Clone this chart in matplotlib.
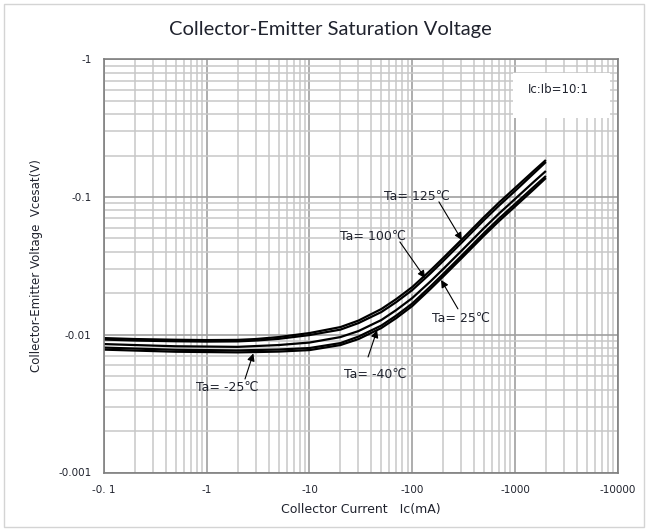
import numpy as np
import matplotlib
matplotlib.use("Agg")
import matplotlib.pyplot as plt
from matplotlib.ticker import FixedLocator, LogLocator, NullFormatter
from matplotlib.patches import Rectangle

# collector current (mA, magnitude) and Vce(sat) (V, magnitude)
ic = [0.1, 0.2, 0.5, 1, 2, 3, 5, 10, 20, 30, 50, 70, 100, 150, 200, 300, 500, 700, 1000, 1500, 2000]
v_125 = [0.00946, 0.00931, 0.00920, 0.00915, 0.00918, 0.00931, 0.00962, 0.01029, 0.01137, 0.01268, 0.01537,
         0.01817, 0.0222, 0.02926, 0.03606, 0.04872, 0.07158, 0.09121, 0.1162, 0.1532, 0.1857]
v_100 = [0.00923, 0.00908, 0.00897, 0.00892, 0.00895, 0.00908, 0.00934, 0.00995, 0.0109, 0.01216, 0.01462,
         0.01728, 0.02111, 0.02783, 0.0343, 0.04634, 0.06808, 0.08675, 0.1105, 0.1469, 0.1796]
v_25 = [0.00856, 0.00842, 0.00825, 0.00821, 0.00817, 0.00828, 0.00842, 0.00878, 0.00962, 0.01064, 0.01279,
        0.01512, 0.01847, 0.02434, 0.0300, 0.04054, 0.05955, 0.07589, 0.09668, 0.1275, 0.1545]
v_m25 = [0.00807, 0.00794, 0.00778, 0.00774, 0.0077, 0.00775, 0.00781, 0.00801, 0.0087, 0.0097, 0.01166,
         0.01379, 0.01685, 0.02239, 0.0276, 0.03728, 0.05478, 0.0698, 0.08892, 0.1172, 0.1421]
v_m40 = [0.0078, 0.00768, 0.00753, 0.00749, 0.00745, 0.00749, 0.00755, 0.00774, 0.00842, 0.00931, 0.01119,
         0.01322, 0.01616, 0.02147, 0.02647, 0.03576, 0.05253, 0.06694, 0.08528, 0.1124, 0.1374]

x_ticks = [0.1, 1, 10, 100, 1000, 10000]
x_labels = ["-0. 1", "-1", "-10", "-100", "-1000", "-10000"]
y_ticks = [0.001, 0.01, 0.1, 1]
y_labels = ["-0.001", "-0.01", "-0.1", "-1"]

txt = "#20232e"

fig = plt.figure(figsize=(6.48, 5.31), dpi=100)
fig.patches.append(Rectangle((4/648, 4/531), 640/648, 523/531, transform=fig.transFigure,
                             fill=False, edgecolor="#d4d4d4", lw=1))
ax = fig.add_axes([104/648, 1-472.5/531, 513.7/648, 413.2/531])

ax.set_xscale("log")
ax.set_yscale("log")
ax.set_xlim(0.1, 10000)
ax.set_ylim(0.001, 1)

for v in [v_125, v_100, v_25, v_m25, v_m40]:
    ax.plot(ic, v, color="black", lw=1.6, solid_capstyle="butt")

ax.xaxis.set_major_locator(FixedLocator(x_ticks))
ax.yaxis.set_major_locator(FixedLocator(y_ticks))
ax.xaxis.set_minor_locator(LogLocator(base=10, subs=np.arange(2, 10)))
ax.yaxis.set_minor_locator(LogLocator(base=10, subs=np.arange(2, 10)))
ax.xaxis.set_minor_formatter(NullFormatter())
ax.yaxis.set_minor_formatter(NullFormatter())
ax.set_xticklabels(x_labels)
ax.set_yticklabels(y_labels)
ax.tick_params(which="both", length=0, labelsize=7.5, labelcolor=txt, pad=9)

ax.grid(which="minor", color="#c8c8c8", lw=1.1)
ax.grid(which="major", color="#a0a0a0", lw=1.2)
ax.set_axisbelow(True)
for s in ax.spines.values():
    s.set_color("#7f7f7f")
    s.set_linewidth(1.2)

ax.set_xlabel("Collector Current   Ic(mA)", fontsize=9, color=txt, labelpad=6)
ax.set_ylabel("Collector-Emitter Voltage  Vcesat(V)", fontsize=8.5, color=txt, labelpad=11)
fig.text(330/648, 1-30/531, "Collector-Emitter Saturation Voltage", ha="center", va="center",
         fontsize=14.5, family="Lato", color=txt)

# note box
ax.add_patch(Rectangle(((513-104)/513.7, (472.5-118)/413.2), 97/513.7, 45/413.2,
                       transform=ax.transAxes, facecolor="white", edgecolor="none", zorder=3))
ax.text((558-104)/513.7, (472.5-90)/413.2, "Ic:Ib=10:1", transform=ax.transAxes,
        ha="center", va="center", fontsize=8.5, color=txt, zorder=4)

# curve labels with arrows
labels = [
    ("Ta= 125℃", (0.609, 0.669), (0.652, 0.655), (304, 0.0487)),
    ("Ta= 100℃", (0.524, 0.572), (0.576, 0.558), (133.6, 0.0258)),
    ("Ta= 25℃", (0.695, 0.374), (0.689, 0.396), (191, 0.0250)),
    ("Ta= -40℃", (0.5275, 0.238), (0.514, 0.2795), (45.5, 0.0108)),
    ("Ta= -25℃", (0.239, 0.207), (0.2745, 0.2263), (2.84, 0.00732)),
]
for name, tpos, start, tip in labels:
    ax.text(tpos[0], tpos[1], name, transform=ax.transAxes, ha="center", va="center",
            fontsize=9, color=txt, zorder=5)
    ax.annotate("", xy=tip, xycoords="data", xytext=start, textcoords="axes fraction",
                arrowprops=dict(arrowstyle="-|>", color="black", lw=0.8, mutation_scale=11,
                                shrinkA=0, shrinkB=0), zorder=5)

fig.savefig("out.png", dpi=100)
